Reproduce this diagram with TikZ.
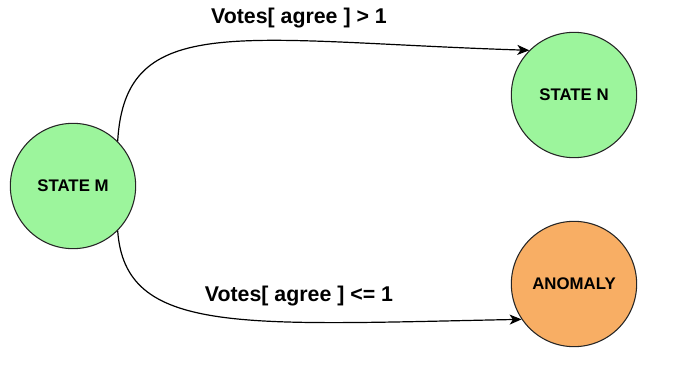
\documentclass[tikz,border=0pt]{standalone}
\usepackage{fontspec}
\setmainfont{Liberation Sans}
\usetikzlibrary{arrows.meta}

\definecolor{stategreen}{HTML}{9CF59C}
\definecolor{anomalyorange}{HTML}{F8AE64}

\tikzset{
  state/.style={circle, draw=black!85, line width=0.8pt, minimum size=94pt, inner sep=0pt,
    font=\fontsize{12.6}{14}\bfseries\selectfont},
  vote/.style={font=\fontsize{16}{19}\bfseries\selectfont, inner sep=0pt},
  trans/.style={line width=0.9pt, -{Stealth[length=9pt, width=7.5pt, inset=2.5pt]}}
}

\begin{document}
\begin{tikzpicture}[x=0.75pt, y=0.75pt]

  \useasboundingbox (0,0) rectangle (675,390);

  \node[state, fill=stategreen] (m) at (73,204) {STATE M};
  \node[state, fill=stategreen] (n) at (574,295) {STATE N};
  \node[state, fill=anomalyorange] (anomaly) at (574,106) {ANOMALY};

  \node[vote] (agree) at (299,372) {Votes[ agree ] > 1};
  \node[vote] (disagree) at (299,94) {Votes[ agree ] <= 1};

  \draw[trans] (m.45) .. controls (125,380) and (240,349) .. (n.135);
  \draw[trans] (m.-45) .. controls (125,55) and (240,65) .. (anomaly.214);

\end{tikzpicture}
\end{document}
